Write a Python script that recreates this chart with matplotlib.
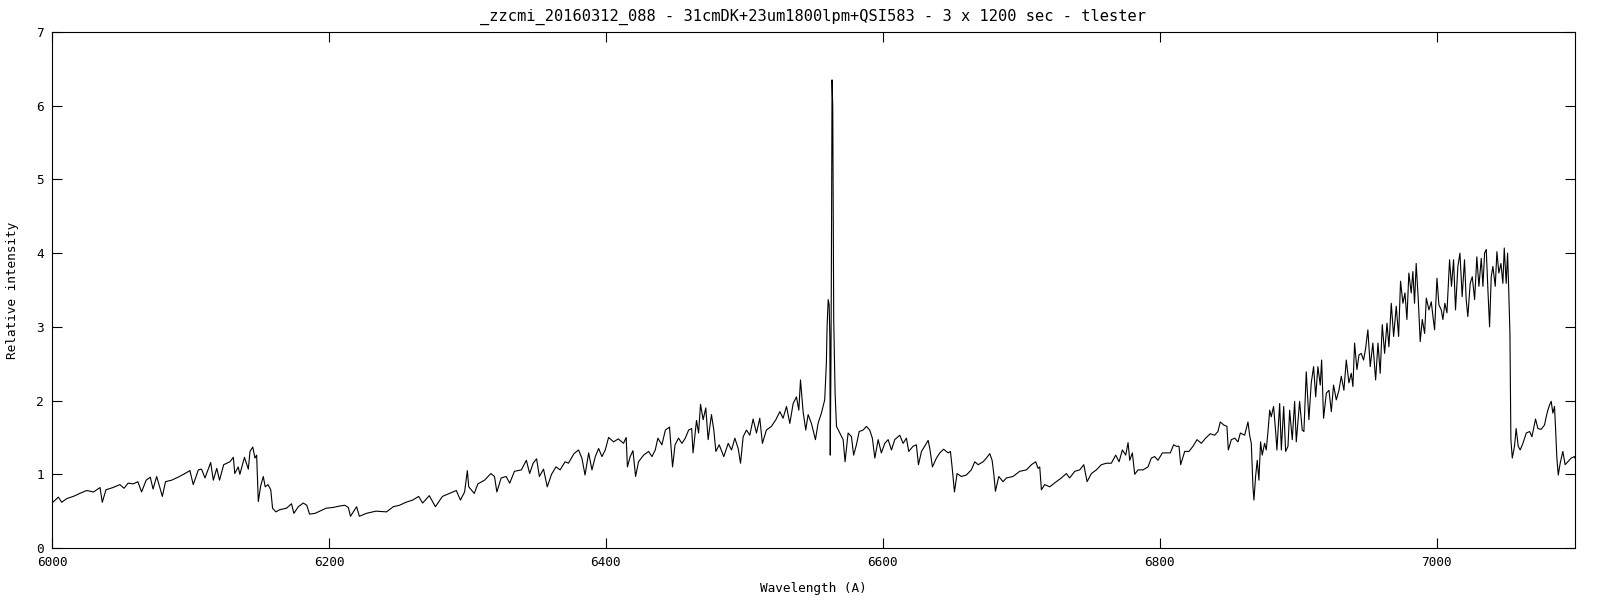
import matplotlib
matplotlib.use("Agg")
import matplotlib.pyplot as plt

#%% spectrum (wavelength in A, relative intensity)

wl_blue = [6000, 6004.6, 6007, 6010.6, 6015.4, 6020, 6025, 6030, 6034.7, 6036.3,
           6039, 6044, 6049, 6052, 6055, 6058.7, 6062, 6064.7, 6068, 6071,
           6073, 6075.6, 6079.7, 6082, 6086.4, 6091, 6096, 6099.6, 6102, 6105.7,
           6108, 6110.5, 6114.6, 6116.5, 6119, 6121, 6124, 6128.5, 6131, 6132,
           6134.5, 6135.7, 6139, 6141.8, 6143, 6145, 6146.6, 6147.8, 6149, 6150.7,
           6152.6, 6154, 6156, 6158, 6159.3, 6161.7, 6164.6, 6169.4, 6173, 6174.7,
           6177.9, 6181.5, 6184, 6186, 6190, 6193.5, 6198, 6203, 6208, 6211.5,
           6214, 6215.6, 6220, 6222, 6227, 6234, 6241.6, 6246.5]
in_blue = [0.61, 0.69, 0.62, 0.67, 0.70, 0.74, 0.78, 0.76, 0.82, 0.62,
           0.79, 0.82, 0.86, 0.81, 0.88, 0.87, 0.90, 0.76, 0.92, 0.96,
           0.80, 0.97, 0.70, 0.90, 0.92, 0.96, 1.01, 1.05, 0.86, 1.06,
           1.07, 0.95, 1.16, 0.92, 1.08, 0.92, 1.13, 1.17, 1.23, 1.01,
           1.10, 1.00, 1.23, 1.07, 1.31, 1.37, 1.22, 1.26, 0.63, 0.84,
           0.97, 0.83, 0.86, 0.79, 0.54, 0.49, 0.52, 0.54, 0.60, 0.47,
           0.56, 0.61, 0.58, 0.46, 0.47, 0.50, 0.54, 0.55, 0.57, 0.58,
           0.55, 0.43, 0.56, 0.43, 0.47, 0.50, 0.49, 0.56]

wl_mid = [6251, 6255.6, 6260.5, 6264.8, 6267.7, 6272.5, 6276.9, 6282, 6287, 6292,
          6295, 6298, 6300, 6301, 6305, 6307.6, 6312.4, 6317, 6319.6, 6321.3,
          6324.4, 6328, 6330.6, 6334, 6339, 6342.6, 6345, 6347.5, 6350, 6352,
          6355, 6357.7, 6360.8, 6364, 6367, 6370.6, 6373, 6377, 6380.3, 6382.7,
          6385, 6387.6, 6390, 6392.4, 6394.8, 6397.2, 6399.6, 6402, 6405.6, 6409,
          6412.8, 6414.7, 6415.6, 6417.6, 6419.6, 6421.5, 6423.6, 6427.3, 6430.9, 6433.3,
          6435.7, 6437.6, 6440.5, 6443, 6446, 6448.2, 6450, 6452.5, 6455, 6457.4,
          6459.8, 6462, 6463, 6465.5, 6467, 6468.4, 6470.3, 6472.2, 6473.9, 6476.3,
          6478, 6479.5, 6481.9, 6485.2, 6488.4, 6490.8, 6493.2, 6495.6, 6497.3, 6499.2,
          6501.6, 6504, 6506.4, 6508.8, 6511.2, 6513.1, 6516, 6519.6, 6522.8, 6525.7,
          6528, 6530.5, 6532.9, 6535.3, 6537.7, 6539.4, 6540.6, 6542.5, 6544.4, 6546.1,
          6548.5, 6551.4, 6553.3, 6555.7, 6558.1]
in_mid = [0.58, 0.62, 0.65, 0.70, 0.61, 0.71, 0.56, 0.70, 0.74, 0.78,
          0.65, 0.76, 1.05, 0.83, 0.74, 0.87, 0.92, 1.01, 0.97, 0.76,
          0.95, 0.97, 0.88, 1.04, 1.06, 1.19, 1.01, 1.15, 1.21, 0.97,
          1.07, 0.83, 1.00, 1.10, 1.06, 1.17, 1.15, 1.28, 1.33, 1.22,
          0.99, 1.29, 1.06, 1.24, 1.35, 1.24, 1.33, 1.50, 1.44, 1.48,
          1.42, 1.50, 1.10, 1.24, 1.32, 0.97, 1.17, 1.26, 1.31, 1.24,
          1.33, 1.49, 1.40, 1.60, 1.64, 1.10, 1.40, 1.49, 1.42, 1.49,
          1.60, 1.62, 1.29, 1.73, 1.56, 1.95, 1.74, 1.90, 1.47, 1.81,
          1.60, 1.31, 1.40, 1.24, 1.42, 1.33, 1.49, 1.35, 1.15, 1.51,
          1.60, 1.53, 1.75, 1.56, 1.76, 1.42, 1.60, 1.65, 1.74, 1.85,
          1.76, 1.92, 1.69, 1.96, 2.05, 1.87, 2.28, 1.85, 1.60, 1.81,
          1.69, 1.47, 1.69, 1.83, 2.01]

# H-alpha emission
wl_ha = [6559.3, 6559.8, 6560.6, 6561.3, 6561.8, 6562.1, 6562.6, 6563.0, 6563.4, 6563.9,
         6564.6, 6565.6]
in_ha = [2.51, 3.00, 3.37, 3.30, 2.87, 1.26, 2.50, 4.18, 6.35, 5.99,
         3.10, 2.10]

wl_red = [6566.6, 6569, 6571.4, 6572.8, 6575, 6577.4, 6579, 6581, 6583, 6585.8,
          6588.2, 6590.6, 6592.5, 6594.3, 6596.7, 6599, 6601.5, 6603.9, 6606.3, 6608.7,
          6612.3, 6614.7, 6617.1, 6618.8, 6621.9, 6624.3, 6625.8, 6628, 6630.3, 6632.8,
          6634, 6635.9, 6638.8, 6641.2, 6644, 6647.2, 6648.9, 6650.1, 6651.8, 6653.7,
          6656.8, 6660.4, 6664, 6666.5, 6668.9, 6672.5, 6674.9, 6677.3, 6679, 6680.2,
          6681.4, 6683.8, 6686.9, 6689.3, 6694.1, 6698.9, 6703.8, 6707.4, 6710.5, 6712.2,
          6713.4, 6714.6, 6717, 6720.6, 6725.4, 6729, 6732.6, 6735, 6738.7, 6742.3,
          6745.2, 6747.6, 6750.7, 6754.3, 6757.9, 6761.5, 6765.1, 6768.3, 6770.7, 6773.1,
          6775.5, 6777.2, 6778.4, 6780.3, 6782, 6784.4, 6788, 6791.6, 6794, 6796.4,
          6798.8, 6802, 6804.8, 6807.7, 6810.1, 6812.1, 6814, 6815.2, 6818.1, 6821.2,
          6824.1, 6827, 6830.1, 6833.2, 6836.6, 6839.7, 6842.1, 6843.8, 6846.2, 6848.6,
          6849.6, 6851.8, 6854.2, 6856.6, 6858.3, 6861.4, 6863.8, 6865, 6866.2, 6867.4,
          6868.1, 6869.3, 6870.5, 6871.7, 6872.9, 6874.1, 6875.8, 6877, 6878.2, 6879.5,
          6880.6, 6882.3, 6883.8, 6884.7, 6886.7, 6887.9, 6889.6, 6891, 6892.7, 6893.9,
          6895.8, 6897.5, 6898.7]
in_red = [1.65, 1.56, 1.47, 1.17, 1.56, 1.51, 1.26, 1.40, 1.58, 1.60,
          1.65, 1.60, 1.49, 1.22, 1.47, 1.29, 1.42, 1.47, 1.33, 1.47,
          1.53, 1.42, 1.49, 1.31, 1.38, 1.40, 1.13, 1.31, 1.38, 1.46,
          1.35, 1.10, 1.22, 1.29, 1.34, 1.29, 1.31, 1.10, 0.76, 1.01,
          0.97, 0.99, 1.06, 1.17, 1.13, 1.17, 1.22, 1.28, 1.19, 1.01,
          0.77, 0.97, 0.90, 0.95, 0.97, 1.04, 1.06, 1.13, 1.17, 1.08,
          1.10, 0.79, 0.86, 0.83, 0.90, 0.95, 1.01, 0.95, 1.04, 1.06,
          1.13, 0.90, 1.01, 1.06, 1.13, 1.15, 1.15, 1.26, 1.17, 1.33,
          1.26, 1.43, 1.19, 1.29, 1.00, 1.06, 1.06, 1.10, 1.22, 1.24,
          1.19, 1.29, 1.29, 1.29, 1.40, 1.38, 1.38, 1.13, 1.31, 1.31,
          1.38, 1.47, 1.42, 1.49, 1.55, 1.53, 1.58, 1.71, 1.67, 1.65,
          1.33, 1.47, 1.49, 1.44, 1.56, 1.53, 1.71, 1.53, 1.42, 0.83,
          0.65, 0.97, 1.19, 0.92, 1.44, 1.26, 1.42, 1.33, 1.57, 1.87,
          1.78, 1.92, 1.58, 1.33, 1.96, 1.33, 1.92, 1.31, 1.38, 1.87,
          1.47, 1.99, 1.44]

# TiO band region
wl_tio = [6901.1, 6903, 6904.2, 6905.9, 6907.8, 6909.5, 6911.2, 6912.7, 6914.3, 6916,
          6917, 6918.4, 6920.4, 6922.3, 6924, 6925.6, 6927.6, 6929.5, 6931.2, 6933.1,
          6934.8, 6936.7, 6938.4, 6939.6, 6940.8, 6942.5, 6944, 6945.6, 6947.3, 6948.8,
          6950.4, 6952.1, 6954, 6956, 6957.7, 6959.3, 6960.8, 6962.5, 6964.2, 6965.6,
          6967.3, 6969, 6970.9, 6972.6, 6974, 6975.7, 6977.2, 6978.6, 6980, 6981.7,
          6982.9, 6984.1, 6985.3, 6986.8, 6988.2, 6989.7, 6991.4, 6992.6, 6994.5, 6996.2,
          6997.4, 6998.6, 7000.3, 7001.7, 7003.4, 7004.6, 7006, 7007.5, 7009.4, 7010.8,
          7012.3, 7013.7, 7015.4, 7016.9, 7018.5, 7020.2, 7021.4, 7022.6, 7024.3, 7025.8,
          7027.5, 7029.1, 7030.6, 7032.3, 7033.5, 7034.7, 7035.9, 7037.1, 7038.3, 7039.5,
          7040.7, 7042.4, 7043.6, 7045, 7046.5, 7047.9, 7048.9, 7050.3, 7051.3, 7052.2,
          7053, 7053.7, 7054.7, 7056.3, 7057.5, 7059, 7060.4, 7062.4, 7064.8, 7067.2,
          7068.9, 7071.5, 7073.2, 7075.6, 7078, 7079.2, 7080.4, 7081.6, 7082.8, 7084,
          7085.2, 7085.9, 7086.9, 7087.9, 7089.3, 7091.2, 7092.9, 7094.8, 7097.2, 7099.6,
          7100]
in_tio = [1.99, 1.60, 1.58, 2.39, 1.74, 2.24, 2.46, 2.05, 2.46, 2.21,
          2.55, 1.76, 2.10, 2.14, 1.85, 2.21, 2.01, 2.14, 2.33, 2.14,
          2.55, 2.24, 2.37, 2.19, 2.78, 2.42, 2.62, 2.64, 2.55, 2.71,
          2.96, 2.46, 2.78, 2.28, 2.78, 2.37, 3.03, 2.64, 3.05, 2.73,
          3.32, 2.87, 3.28, 2.87, 3.62, 3.32, 3.46, 3.10, 3.73, 3.46,
          3.75, 3.32, 3.86, 3.37, 2.80, 3.10, 2.91, 3.39, 3.23, 3.34,
          3.14, 2.96, 3.66, 3.30, 3.23, 3.10, 3.32, 3.19, 3.91, 3.55,
          3.91, 3.23, 3.82, 4.00, 3.41, 3.91, 3.37, 3.14, 3.59, 3.68,
          3.37, 3.95, 3.55, 3.93, 3.55, 4.00, 4.05, 3.50, 3.00, 3.68,
          3.82, 3.55, 4.02, 3.73, 3.86, 3.59, 4.07, 3.59, 4.00, 3.46,
          2.91, 1.47, 1.22, 1.38, 1.62, 1.38, 1.33, 1.42, 1.56, 1.58,
          1.51, 1.75, 1.62, 1.61, 1.67, 1.78, 1.87, 1.94, 1.99, 1.83,
          1.92, 1.65, 1.22, 0.99, 1.15, 1.31, 1.13, 1.17, 1.22, 1.24,
          1.22]

wavelength = wl_blue + wl_mid + wl_ha + wl_red + wl_tio
intensity = in_blue + in_mid + in_ha + in_red + in_tio

title = '_zzcmi_20160312_088 - 31cmDK+23um1800lpm+QSI583 - 3 x 1200 sec - tlester'
x_ticks = [6000, 6200, 6400, 6600, 6800, 7000]
y_ticks = [0, 1, 2, 3, 4, 5, 6, 7]

#%% gnuplot-ish plot

plt.rcParams['font.family'] = 'DejaVu Sans Mono'
plt.rcParams['font.size'] = 9.2

fig = plt.figure(figsize=(16, 6), dpi=100)
ax = fig.add_axes([52/1600, 52/600, 1523/1600, 516/600])

ax.plot(wavelength, intensity, color='black', linewidth=0.8)

ax.set_xlim(6000, 7100)
ax.set_ylim(0, 7)
ax.set_xticks(x_ticks)
ax.set_yticks(y_ticks)
ax.tick_params(direction='in', length=7, width=0.8, top=True, right=True, pad=6)
for s in ax.spines.values():
    s.set_linewidth(0.8)

ax.set_title(title, pad=8)
ax.set_xlabel('Wavelength (A)', labelpad=9)
ax.set_ylabel('Relative intensity', labelpad=12)

fig.savefig('out.png', dpi=100)
